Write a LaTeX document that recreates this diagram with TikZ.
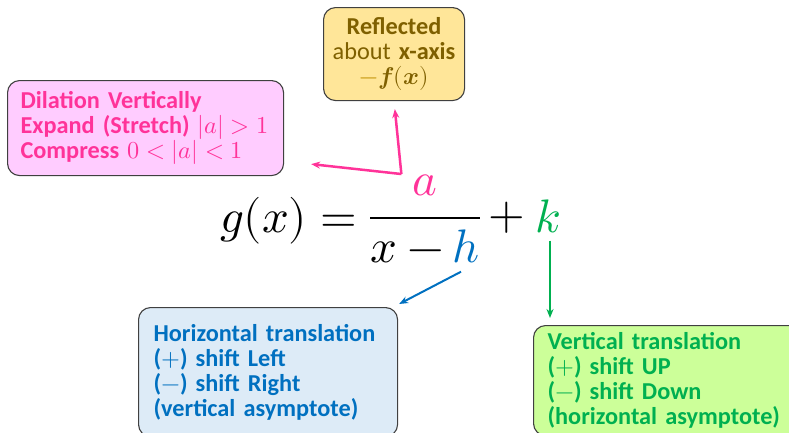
\documentclass[tikz,border=0pt]{standalone}
\usepackage{amsmath}
\usepackage{fontspec}
\usepackage{unicode-math}
\setmainfont{Carlito}
\setmathfont{Latin Modern Math}
\usepackage{tikz}
\usetikzlibrary{arrows.meta, positioning, calc}
\definecolor{dilpink}{HTML}{FF3399}
\definecolor{dilfill}{HTML}{FFCCFF}
\definecolor{refltext}{HTML}{7F6000}
\definecolor{reflgold}{HTML}{BF9000}
\definecolor{reflfill}{HTML}{FFE699}
\definecolor{hortext}{HTML}{0070C0}
\definecolor{horfill}{HTML}{DDEBF7}
\definecolor{vertext}{HTML}{00B050}
\definecolor{verfill}{HTML}{CCFF99}
\definecolor{cardline}{HTML}{404040}

\begin{document}
\begin{tikzpicture}[x=1pt, y=-1pt,
  every node/.style={font=\fontsize{24.3}{25}\selectfont},
  card/.style={draw=cardline, line width=1.1pt, rounded corners=12pt,
               anchor=north west, align=left, inner xsep=13pt, inner ysep=0pt},
  eq/.style={inner sep=0pt, font=\fontsize{47}{50}\selectfont},
  arr/.style={-{Stealth[length=9pt, width=7pt]}, line width=2pt}
]
  \useasboundingbox (0,0) rectangle (789,432);

  % equation
  \node[eq, anchor=base east] (lhs) at (357,232) {$g(x) =$};
  \node[eq, anchor=base, text=dilpink] (num) at (425,195) {$a$};
  \draw[line width=2.6pt] (370,218) -- (480,218);
  \node[eq, anchor=base west] (den) at (370,262) {$x - {}$};
  \node[eq, anchor=base, text=hortext] (hh) at (466,262) {$h$};
  \node[eq] (plus) at (507,218) {$+$};
  \node[eq, anchor=base, text=vertext] (kk) at (548,232) {$k$};

  % boxes
  \node[card, fill=dilfill, text=dilpink, text width=250pt, minimum height=95pt] (dil) at (7,80)
    {\textbf{Dilation Vertically}\\
     \textbf{Expand (Stretch)} $|a| > 1$\\
     \textbf{Compress} $0 < |a| < 1$};
  \node[card, fill=reflfill, text=refltext, align=center, inner xsep=6pt,
        text width=129pt, minimum height=93pt] (refl) at (323,7)
    {\textbf{Reflected}\\
     about \textbf{x-axis}\\
     $\color{reflgold}-\color{refltext}\symbfit{f}(\symbfit{x})$};
  \node[card, fill=horfill, text=hortext, text width=229pt, inner xsep=15pt,
        minimum height=129pt, font=\fontsize{24.3}{25}\selectfont\bfseries] (hor) at (138,307)
    {Horizontal translation\\
     ($+$) shift Left\\
     ($-$) shift Right\\
     (vertical asymptote)};
  \node[card, fill=verfill, text=vertext, text width=240pt, inner xsep=14pt,
        minimum height=110pt, font=\fontsize{24.3}{25}\selectfont\bfseries] (ver) at (533,325)
    {Vertical translation\\
     ($+$) shift UP\\
     ($-$) shift Down\\
     (horizontal asymptote)};

  % arrows
  \coordinate (apex) at ($(num.north west)+(-11,0)$);
  \draw[arr, dilpink, line width=2.5pt] (apex) -- ($(dil.south east)+(27,-12)$);
  \draw[arr, dilpink, line width=2.5pt, shorten >=8pt] (apex) -- (refl.south);
  \draw[arr, hortext] ($(hh.south)+(-5,9)$) -- ($(hor.north east)+(1,-3)$);
  \draw[arr, vertext] ($(kk.south)+(2,8)$) -- ($(ver.north west)+(17,-7)$);
\end{tikzpicture}
\end{document}
